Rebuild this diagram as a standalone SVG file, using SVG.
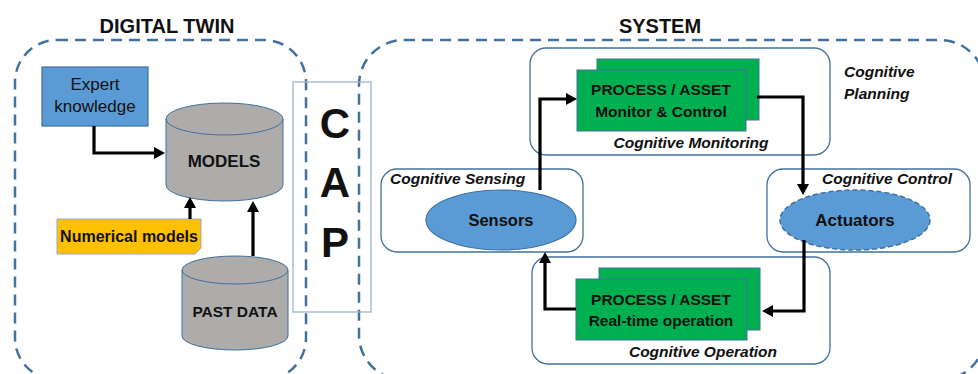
<svg xmlns="http://www.w3.org/2000/svg" width="978" height="374" viewBox="0 0 978 374">
<defs>
<style>
.frame{fill:none;stroke:#41719C;stroke-width:2.5;stroke-dasharray:11 7}
.grp{fill:#fff;stroke:#41719C;stroke-width:1.3}
.blue{fill:#5B9BD5;stroke:#41719C;stroke-width:1.2}
.green{fill:#00B050;stroke:#41719C;stroke-width:1}
.cyl{fill:#AEABAB;stroke:#41719C;stroke-width:1}
.t{font-family:"Liberation Sans",Arial,sans-serif;fill:#111}
.title{font-size:20px;font-weight:bold;text-anchor:middle}
.b{font-weight:bold;text-anchor:middle}
.lab{font-size:15.5px;font-weight:bold;font-style:italic}
.conn{fill:none;stroke:#000;stroke-width:3.2}
</style>
<marker id="ah" markerUnits="userSpaceOnUse" markerWidth="11" markerHeight="12" refX="0" refY="6" orient="auto">
<path d="M0,0 L11,6 L0,12 z" fill="#000"/>
</marker>
</defs>
<rect width="978" height="374" fill="#fff"/>

<g id="digital-twin">
<rect class="frame" x="15" y="40" width="291" height="340" rx="42"/>
<text class="t title" x="167" y="33">DIGITAL TWIN</text>
</g>

<g id="system">
<rect class="frame" x="359" y="40" width="626" height="340" rx="45"/>
<text class="t title" x="660" y="33">SYSTEM</text>
</g>

<g id="cap">
<rect x="293" y="82" width="78" height="230" fill="none" stroke="#9DB3D3" stroke-width="1.3"/>
<text class="t b" x="335" y="138" font-size="42">C</text>
<text class="t b" x="335" y="197" font-size="42">A</text>
<text class="t b" x="335" y="257" font-size="42">P</text>
</g>

<g id="expert-knowledge">
<rect class="blue" x="42" y="67" width="106" height="59"/>
<text class="t" x="95" y="90" font-size="17" text-anchor="middle">Expert</text>
<text class="t" x="95" y="112" font-size="17" text-anchor="middle">knowledge</text>
</g>

<g id="models">
<path class="cyl" d="M166,119 A58.5,16 0 0 1 283,119 V185 A58.5,16 0 0 1 166,185 Z"/>
<path d="M166,119 A58.5,16 0 0 0 283,119" fill="none" stroke="#41719C" stroke-width="1"/>
<text class="t b" x="224" y="167" font-size="17">MODELS</text>
</g>

<g id="numerical-models">
<path d="M57,219 H201 V248 L195,254 H57 Z" fill="#FFC000" stroke="#8FAADC" stroke-width="1"/>
<text class="t b" x="129" y="242" font-size="16">Numerical models</text>
</g>

<g id="past-data">
<path class="cyl" d="M182,270 A53,14 0 0 1 288,270 V336 A53,14 0 0 1 182,336 Z"/>
<path d="M182,270 A53,14 0 0 0 288,270" fill="none" stroke="#41719C" stroke-width="1"/>
<text class="t b" x="235" y="317" font-size="15.5">PAST DATA</text>
</g>

<g id="cognitive-monitoring">
<rect class="grp" x="530" y="48" width="300" height="107" rx="16"/>
<text class="t lab" x="691" y="148" text-anchor="middle">Cognitive Monitoring</text>
</g>

<g id="process-monitor">
<rect class="green" x="597" y="59" width="162" height="61"/>
<rect class="green" x="577" y="70" width="169" height="61"/>
<text class="t b" x="661" y="95" font-size="15.5">PROCESS / ASSET</text>
<text class="t b" x="661" y="117" font-size="15.5">Monitor &amp; Control</text>
</g>

<g id="cognitive-planning">
<text class="t lab" x="844" y="77">Cognitive</text>
<text class="t lab" x="844" y="99">Planning</text>
</g>

<g id="cognitive-sensing">
<rect class="grp" x="381" y="169" width="202" height="83" rx="16"/>
<text class="t lab" x="390" y="184">Cognitive Sensing</text>
</g>

<g id="sensors">
<ellipse class="blue" cx="501" cy="220" rx="75" ry="30"/>
<text class="t b" x="501" y="226" font-size="16.5">Sensors</text>
</g>

<g id="cognitive-control">
<rect class="grp" x="767" y="169" width="203" height="83" rx="16"/>
<text class="t lab" x="822" y="184">Cognitive Control</text>
</g>

<g id="actuators">
<ellipse cx="855" cy="220" rx="75" ry="30" fill="#5B9BD5" stroke="#41719C" stroke-width="1.5" stroke-dasharray="5 3"/>
<text class="t b" x="855" y="226" font-size="17">Actuators</text>
</g>

<g id="cognitive-operation">
<rect class="grp" x="532" y="257" width="298" height="107" rx="16"/>
<text class="t lab" x="703" y="357" text-anchor="middle">Cognitive Operation</text>
</g>

<g id="process-operation">
<rect class="green" x="599" y="268" width="161" height="62"/>
<rect class="green" x="576" y="279" width="171" height="61"/>
<text class="t b" x="661" y="305" font-size="15.5">PROCESS / ASSET</text>
<text class="t b" x="661" y="326" font-size="15.5">Real-time operation</text>
</g>

<g id="connectors">
<path class="conn" d="M94,126 V153 H154" marker-end="url(#ah)"/>
<path class="conn" d="M190,219 V208" marker-end="url(#ah)"/>
<path class="conn" d="M253,256 V212" marker-end="url(#ah)"/>
<path class="conn" d="M540,190 V99 H566" marker-end="url(#ah)"/>
<path class="conn" d="M757,97 H803 V184" marker-end="url(#ah)"/>
<path class="conn" d="M804,240 V311 H773" marker-end="url(#ah)"/>
<path class="conn" d="M576,309 H545 V263" marker-end="url(#ah)"/>
</g>
</svg>
